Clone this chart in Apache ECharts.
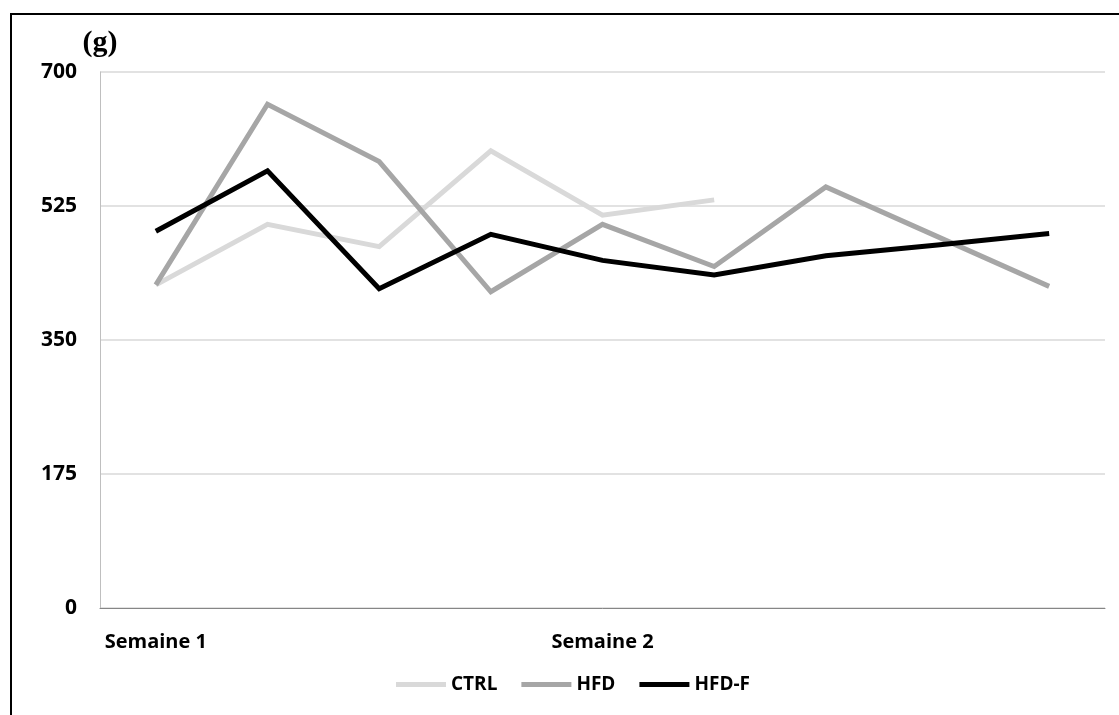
<!DOCTYPE html>
<html>
<head>
<meta charset="utf-8">
<script src="https://cdn.jsdelivr.net/npm/echarts@6/dist/echarts.min.js"></script>
<style>
html,body{margin:0;padding:0;background:#fff;}
#chart{width:1119px;height:715px;}
</style>
</head>
<body>
<div id="chart"></div>
<script>
const categories = ['Semaine 1', '', '', '', 'Semaine 2', '', '', '', ''];
const ctrl = [422, 501, 472, 597, 513, 533, null, null, null];
const hfd = [422, 658, 583, 413, 501, 446, 550, 485, 420];
const hfdF = [492, 571, 417, 488, 454, 435, 460, 474, 489];
const yTicks = [0, 175, 350, 525, 700];

const font = '"Open Sans", sans-serif';
const chart = echarts.init(document.getElementById('chart'));
chart.setOption({
  backgroundColor: '#fff',
  animation: false,
  graphic: [{
    type: 'rect',
    shape: { x: 11, y: 14, width: 1200, height: 800 },
    style: { fill: 'none', stroke: '#000', lineWidth: 2 },
    silent: true, z: -1
  }],
  grid: { left: 100, right: 14, top: 72, bottom: 107, containLabel: false },
  legend: {
    left: 391, top: 670,
    icon: 'rect', itemWidth: 50, itemHeight: 5, itemGap: 24,
    textStyle: { fontFamily: font, fontWeight: 'bold', fontSize: 19, color: '#000' },
    data: ['CTRL', 'HFD', 'HFD-F']
  },
  xAxis: {
    type: 'category',
    data: categories,
    boundaryGap: true,
    axisLine: { lineStyle: { color: '#868686', width: 1 } },
    axisTick: { alignWithLabel: true, length: 5, lineStyle: { color: '#868686' } },
    axisLabel: { interval: 0, margin: 24, fontFamily: font, fontWeight: 'bold', fontSize: 20, color: '#000' },
    splitLine: { show: false }
  },
  yAxis: {
    type: 'value',
    min: yTicks[0], max: yTicks[yTicks.length - 1], interval: 175,
    name: '(g)',
    nameLocation: 'end',
    nameGap: 14,
    nameTextStyle: { fontFamily: '"Liberation Serif", serif', fontWeight: 'bold', fontSize: 30, color: '#000', align: 'center' },
    axisLine: { show: true, lineStyle: { color: '#bfbfbf', width: 1 } },
    axisTick: { show: false },
    axisLabel: { margin: 23, fontFamily: font, fontWeight: 'bold', fontSize: 21, color: '#000' },
    splitLine: { lineStyle: { color: '#d9d9d9', width: 1.5 } }
  },
  series: [
    { name: 'CTRL', type: 'line', data: ctrl, showSymbol: false, symbol: 'none',
      lineStyle: { color: '#d9d9d9', width: 5, cap: 'butt', join: 'miter' }, itemStyle: { color: '#d9d9d9' }, z: 2 },
    { name: 'HFD', type: 'line', data: hfd, showSymbol: false, symbol: 'none',
      lineStyle: { color: '#a6a6a6', width: 5, cap: 'butt', join: 'miter' }, itemStyle: { color: '#a6a6a6' }, z: 3 },
    { name: 'HFD-F', type: 'line', data: hfdF, showSymbol: false, symbol: 'none',
      lineStyle: { color: '#000000', width: 5, cap: 'butt', join: 'miter' }, itemStyle: { color: '#000000' }, z: 4 }
  ]
});
</script>
</body>
</html>
